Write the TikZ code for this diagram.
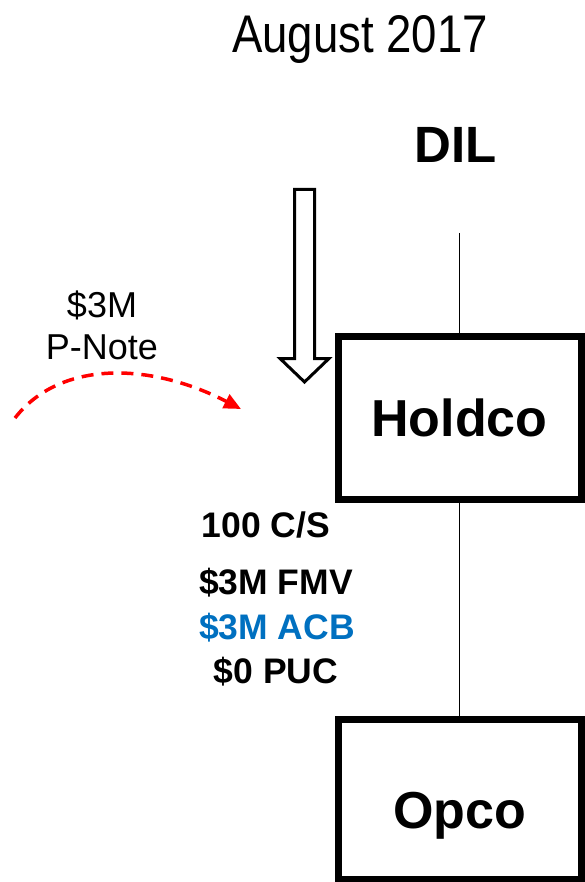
\documentclass[tikz,border=0pt]{standalone}
\usepackage{fontspec}
\setmainfont{Liberation Sans}
\newfontfamily\narrowsans[FakeStretch=0.86]{Liberation Sans}
\usetikzlibrary{arrows.meta,positioning}
\definecolor{acbblue}{HTML}{0070C0}
\definecolor{notered}{HTML}{FF0000}

\begin{document}
\begin{tikzpicture}[
  x=1pt, y=-1pt,
  entity/.style={rectangle, draw=black, line width=7pt, fill=white,
    minimum width=243pt, minimum height=163pt, inner sep=0pt,
    font=\fontsize{52pt}{52pt}\selectfont\bfseries, text height=37pt, text depth=0pt},
  heading/.style={anchor=base, inner sep=0pt, font=\narrowsans\fontsize{53pt}{53pt}\selectfont},
  owner/.style={anchor=base, inner sep=0pt, font=\fontsize{51pt}{51pt}\selectfont\bfseries},
  notetext/.style={anchor=base, inner sep=0pt, font=\fontsize{36pt}{36pt}\selectfont},
  fact/.style={anchor=base, inner sep=0pt, font=\fontsize{35.5pt}{35.5pt}\selectfont\bfseries},
  link/.style={line width=1.3pt, black},
  hollow/.style={draw=black, line width=3pt, fill=white, line join=miter},
  loan/.style={notered, line width=3.5pt, dash pattern=on 12pt off 8pt,
    -{Triangle[length=17pt,width=15pt]}},
]
  \useasboundingbox (0,0) rectangle (584,882);

  \node[heading] (title) at (360,53) {August 2017};
  \node[owner] (dil) at (456,163) {DIL};
  \coordinate (dilfoot) at (459.5,233);

  \draw[link] (dilfoot) -- (459.5,417.5) -- (459.5,799);
  \node[entity] (holdco) at (459.5,417.5) {Holdco};
  \node[entity, minimum height=160pt, text height=59pt] (opco) at (459.5,799) {Opco};

  % subscription arrow into Holdco
  \draw[hollow] (294.5,189.5) -- (314.5,189.5) -- (314.5,358.5) -- (329,358.5)
    -- (304.5,382) -- (280,358.5) -- (294.5,358.5) -- cycle;

  % note issued
  \node[notetext] (noteamt) at (102,317) {\$3M};
  \node[notetext] (notename) at (102,359) {P-Note};
  \coordinate (notetail) at (15,418);
  \coordinate (notehead) at (241,409);
  \draw[loan] (notetail) .. controls (60,360) and (150,362) .. (notehead);

  % share terms
  \node[fact] (shares) at (266,537) {100 C/S};
  \node[fact] (fmv) at (276,594) {\$3M FMV};
  \node[fact, text=acbblue] (acb) at (277,639) {\$3M ACB};
  \node[fact] (puc) at (276,683) {\$0 PUC};
\end{tikzpicture}
\end{document}
